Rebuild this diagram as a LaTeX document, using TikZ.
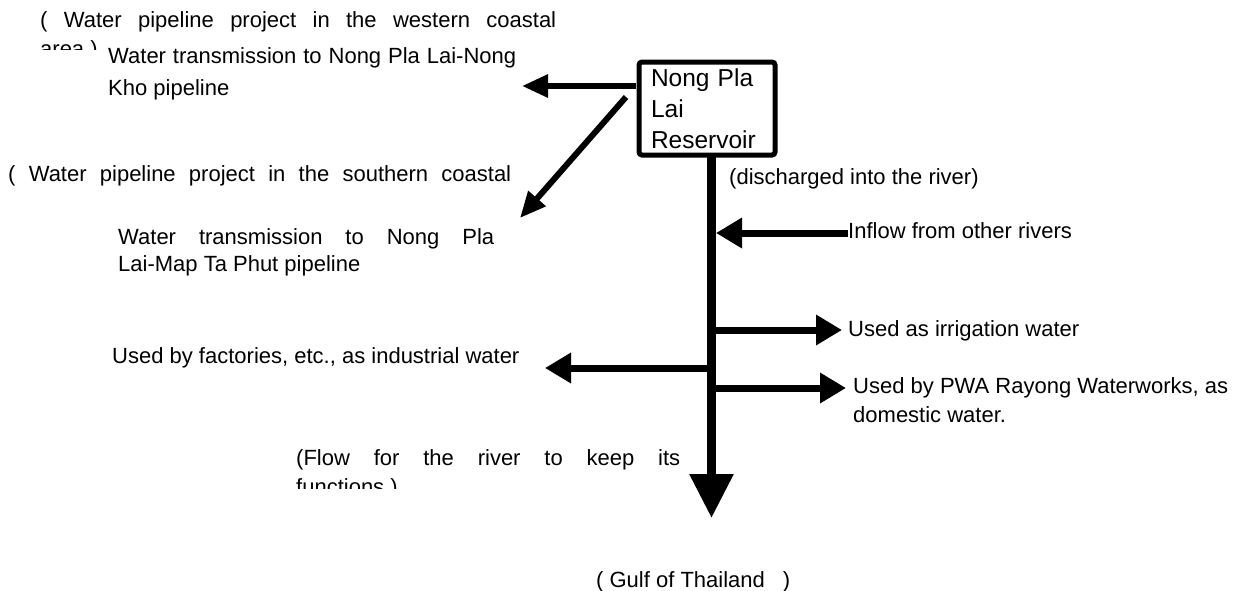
\documentclass[tikz,border=0pt]{standalone}
\usepackage{fontspec}
\setmainfont{Liberation Sans}
\usetikzlibrary{arrows.meta}
\begin{document}
\begin{tikzpicture}[x=1pt,y=-1pt,
  txt/.style={font=\fontsize{22}{29}\selectfont, inner sep=0pt, anchor=north west, align=justify},
  line/.style={font=\fontsize{22}{29}\selectfont, inner sep=0pt, anchor=base west},
  thin/.style={line width=6pt, -{Triangle[length=26pt,width=22pt]}},
  flow/.style={line width=7pt, -{Triangle[length=26pt,width=29pt]}},
  river/.style={line width=9pt, -{Triangle[length=44pt,width=42pt]}},
  resbox/.style={draw, line width=5pt, rounded corners=3pt, anchor=north west,
    minimum width=136pt, minimum height=93pt, text width=112pt, inner xsep=12pt,
    align=left, font=\fontsize{24.5}{31}\selectfont}
]
\fill[white] (0,0) rectangle (1241,590);
\useasboundingbox (0,0) rectangle (1241,590);

% western coastal project (second line clipped)
\begin{scope}
  \clip (0,0) rectangle (640,49);
  \node[txt, text width=516pt] (west) at (40,11) {( Water pipeline project in the western coastal\linebreak area )};
\end{scope}

\node[txt, text width=408pt, font=\fontsize{22}{32}\selectfont] (nk) at (108,47) {Water transmission to Nong Pla Lai-Nong\linebreak Kho pipeline};

% reservoir
\node[resbox] (res) at (636.5,59.5) {Nong Pla\\Lai\\Reservoir};

% southern coastal project
\node[line] (south) at (8,181) {\makebox[503pt][s]{( Water pipeline project in the southern coastal}};

\node[txt, text width=376pt, font=\fontsize{22}{27}\selectfont] (mt) at (118,228) {Water transmission to Nong Pla\linebreak Lai-Map Ta Phut pipeline};

% river texts
\node[line] (dis) at (729,184) {(discharged into the river)};
\node[line] (inflow) at (848,238) {Inflow from other rivers};
\node[line] (irr) at (848,336) {Used as irrigation water};
\node[line] (fac) at (112,363) {Used by factories, etc., as industrial water};
\node[txt, align=left] (pwa) at (853,377) {Used by PWA Rayong Waterworks, as\\domestic water.};

\begin{scope}
  \clip (0,440) rectangle (700,488);
  \node[txt, text width=384pt] (flowtxt) at (296,449) {(Flow for the river to keep its\linebreak functions )};
\end{scope}

\node[line] (gulf) at (596,587) {( Gulf of Thailand\hspace{18pt})};

% coordinates
\coordinate (a1s) at (636,86);
\coordinate (a1e) at (522,86);
\coordinate (a2s) at (626,97);
\coordinate (a2e) at (520,218);
\coordinate (rtop) at (711.5,154);
\coordinate (rend) at (711.5,518);
\coordinate (inR) at (716,233);
\coordinate (irrL) at (711.5,330);
\coordinate (irrE) at (842,330);
\coordinate (facL) at (711.5,368);
\coordinate (facE) at (545,368);
\coordinate (pwaL) at (711.5,388);
\coordinate (pwaE) at (846,388);

% connectors
\draw[thin] (a1s) -- (a1e);
\draw[thin] (a2s) -- (a2e);
\draw[river] (rtop) -- (rend);
\draw[flow] (inflow.west |- inR) -- (inR);
\draw[flow] (irrL) -- (irrE);
\draw[flow] (facL) -- (facE);
\draw[flow] (pwaL) -- (pwaE);
\end{tikzpicture}
\end{document}
